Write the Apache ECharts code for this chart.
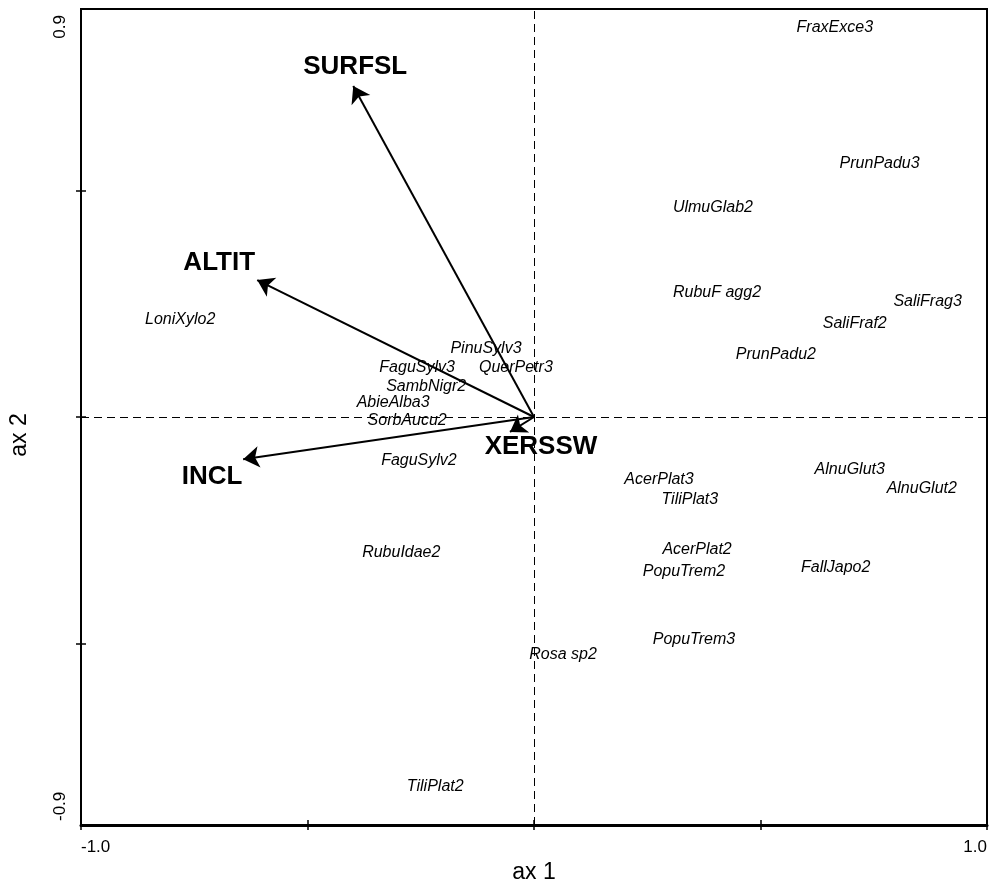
<!DOCTYPE html>
<html>
<head>
<meta charset="utf-8">
<title>Ordination biplot: ax 1 vs ax 2</title>
<script src="https://cdn.jsdelivr.net/npm/echarts@6.0.0/dist/echarts.min.js"></script>
<style>
  html, body { margin: 0; padding: 0; background: #fff; }
  #chart { width: 989px; height: 884px; }
</style>
</head>
<body>
<div id="chart"></div>
<script>
// Axis ranges, ticks and tick labels
const xRange = [-1.0, 1.0];
const yRange = [-0.9, 0.9];
const xTicks = [-1.0, -0.5, 0, 0.5, 1.0];
const yTicks = [-0.5, 0, 0.5];
const xTickLabels = ['-1.0', '1.0'];
const yTickLabels = ['-0.9', '0.9'];

// Species scores (axis 1, axis 2)
const speciesNames = [
  'FraxExce3', 'PrunPadu3', 'UlmuGlab2', 'RubuF agg2', 'SaliFrag3', 'SaliFraf2',
  'PrunPadu2', 'LoniXylo2', 'PinuSylv3', 'FaguSylv3', 'QuerPetr3', 'SambNigr2',
  'AbieAlba3', 'SorbAucu2', 'FaguSylv2', 'AcerPlat3', 'TiliPlat3', 'AlnuGlut3',
  'AlnuGlut2', 'RubuIdae2', 'AcerPlat2', 'PopuTrem2', 'FallJapo2', 'PopuTrem3',
  'Rosa sp2', 'TiliPlat2'
];
const speciesAx1 = [
  0.664, 0.763, 0.395, 0.404, 0.869, 0.708,
  0.534, -0.781, -0.106, -0.258, -0.040, -0.238,
  -0.311, -0.280, -0.254, 0.276, 0.344, 0.697,
  0.856, -0.293, 0.360, 0.331, 0.666, 0.353,
  0.064, -0.218
];
const speciesAx2 = [
  0.860, 0.560, 0.461, 0.274, 0.254, 0.207,
  0.137, 0.214, 0.150, 0.110, 0.108, 0.068,
  0.031, -0.007, -0.097, -0.139, -0.183, -0.115,
  -0.157, -0.298, -0.293, -0.340, -0.333, -0.492,
  -0.523, -0.816
];

// Environmental variable vectors (axis 1, axis 2)
const envNames = ['SURFSL', 'ALTIT', 'INCL', 'XERSSW'];
const envAx1 = [-0.399, -0.611, -0.642, -0.053];
const envAx2 = [0.730, 0.302, -0.093, -0.033];

// Where each vector's name sits relative to its arrow tip (px)
const envLabelOffset = {
  SURFSL: [2, -19],
  ALTIT: [-38, -17],
  INCL: [-31, 18],
  XERSSW: [31, 15]
};

const FONT = "'Liberation Sans', Arial, Helvetica, sans-serif";
const INK = '#000000';

const chart = echarts.init(document.getElementById('chart'), null, { renderer: 'canvas' });

const speciesData = speciesNames.map((n, i) => ({ name: n, value: [speciesAx1[i], speciesAx2[i]] }));
const arrowData = envNames.map((n, i) => ({ name: n, coords: [[0, 0], [envAx1[i], envAx2[i]]] }));
const envLabelData = envNames.map((n, i) => ({
  name: n,
  value: [envAx1[i], envAx2[i]],
  label: { offset: envLabelOffset[n] }
}));

function labelFor(values, labels) {
  return v => {
    const k = values.findIndex(t => Math.abs(t - v) < 1e-9);
    return k >= 0 ? labels[k] : '';
  };
}

const tickStyle = { color: INK, width: 1.5 };

const option = {
  animation: false,
  backgroundColor: '#fff',
  textStyle: { fontFamily: FONT, color: INK },
  grid: {
    left: 81, right: 2, top: 9, bottom: 59,
    outerBoundsMode: 'none', containLabel: false,
    show: true, borderColor: INK, borderWidth: 2, backgroundColor: 'transparent'
  },
  xAxis: [
    {
      type: 'value', position: 'bottom',
      min: xRange[0], max: xRange[1],
      axisLine: { show: true, onZero: false, lineStyle: { color: INK, width: 3 } },
      axisTick: { show: true, inside: false, length: 5, customValues: xTicks, lineStyle: tickStyle },
      axisLabel: {
        show: true, customValues: xRange, formatter: labelFor(xRange, xTickLabels),
        color: INK, fontSize: 17, fontFamily: FONT, margin: 14,
        alignMinLabel: 'left', alignMaxLabel: 'right'
      },
      splitLine: { show: false },
      name: 'ax 1', nameLocation: 'middle', nameGap: 34,
      nameTextStyle: { color: INK, fontSize: 23, fontFamily: FONT }
    },
    {
      type: 'value', position: 'bottom',
      min: xRange[0], max: xRange[1],
      axisLine: { show: false, onZero: false },
      axisTick: { show: true, inside: true, length: 5, customValues: xTicks, lineStyle: tickStyle },
      axisLabel: { show: false },
      splitLine: { show: false }
    }
  ],
  yAxis: [
    {
      type: 'value', position: 'left',
      min: yRange[0], max: yRange[1],
      axisLine: { show: true, onZero: false, lineStyle: { color: INK, width: 2 } },
      axisTick: { show: true, inside: false, length: 5, customValues: yTicks, lineStyle: tickStyle },
      axisLabel: {
        show: true, customValues: yRange, formatter: labelFor(yRange, yTickLabels),
        rotate: 90, color: INK, fontSize: 17, fontFamily: FONT, margin: 12,
        alignMinLabel: 'left', alignMaxLabel: 'right',
        padding: [0, 6, 0, 4]
      },
      splitLine: { show: false },
      name: 'ax 2', nameLocation: 'middle', nameGap: 50, nameRotate: 90,
      nameTextStyle: { color: INK, fontSize: 23, fontFamily: FONT, padding: [0, 36, 0, 0] }
    },
    {
      type: 'value', position: 'left',
      min: yRange[0], max: yRange[1],
      axisLine: { show: false, onZero: false },
      axisTick: { show: true, inside: true, length: 5, customValues: yTicks, lineStyle: tickStyle },
      axisLabel: { show: false },
      splitLine: { show: false }
    }
  ],
  series: [
    {
      // dashed zero lines through the origin
      type: 'scatter', name: 'origin', data: [], silent: true,
      markLine: {
        silent: true, symbol: 'none', animation: false,
        label: { show: false },
        lineStyle: { color: INK, width: 1, type: [8, 5], opacity: 1 },
        data: [{ xAxis: 0 }, { yAxis: 0 }]
      }
    },
    {
      type: 'lines', name: 'environment', coordinateSystem: 'cartesian2d',
      xAxisIndex: 0, yAxisIndex: 0,
      symbol: ['none', 'arrow'], symbolSize: 16,
      lineStyle: { color: INK, width: 2, opacity: 1, curveness: 0 },
      data: arrowData, silent: true, z: 3
    },
    {
      type: 'scatter', name: 'environment labels', symbolSize: 0,
      itemStyle: { opacity: 1 },
      data: envLabelData, silent: true, z: 4,
      label: {
        show: true, position: 'inside', formatter: '{b}', opacity: 1,
        color: INK, fontSize: 26, fontWeight: 'bold', fontFamily: FONT
      }
    },
    {
      type: 'scatter', name: 'species', symbolSize: 0,
      itemStyle: { opacity: 1 },
      data: speciesData, silent: true, z: 5,
      label: {
        show: true, position: 'inside', formatter: '{b}', opacity: 1,
        color: INK, fontSize: 16, fontStyle: 'italic', fontFamily: FONT
      }
    }
  ]
};

chart.setOption(option);
</script>
</body>
</html>
